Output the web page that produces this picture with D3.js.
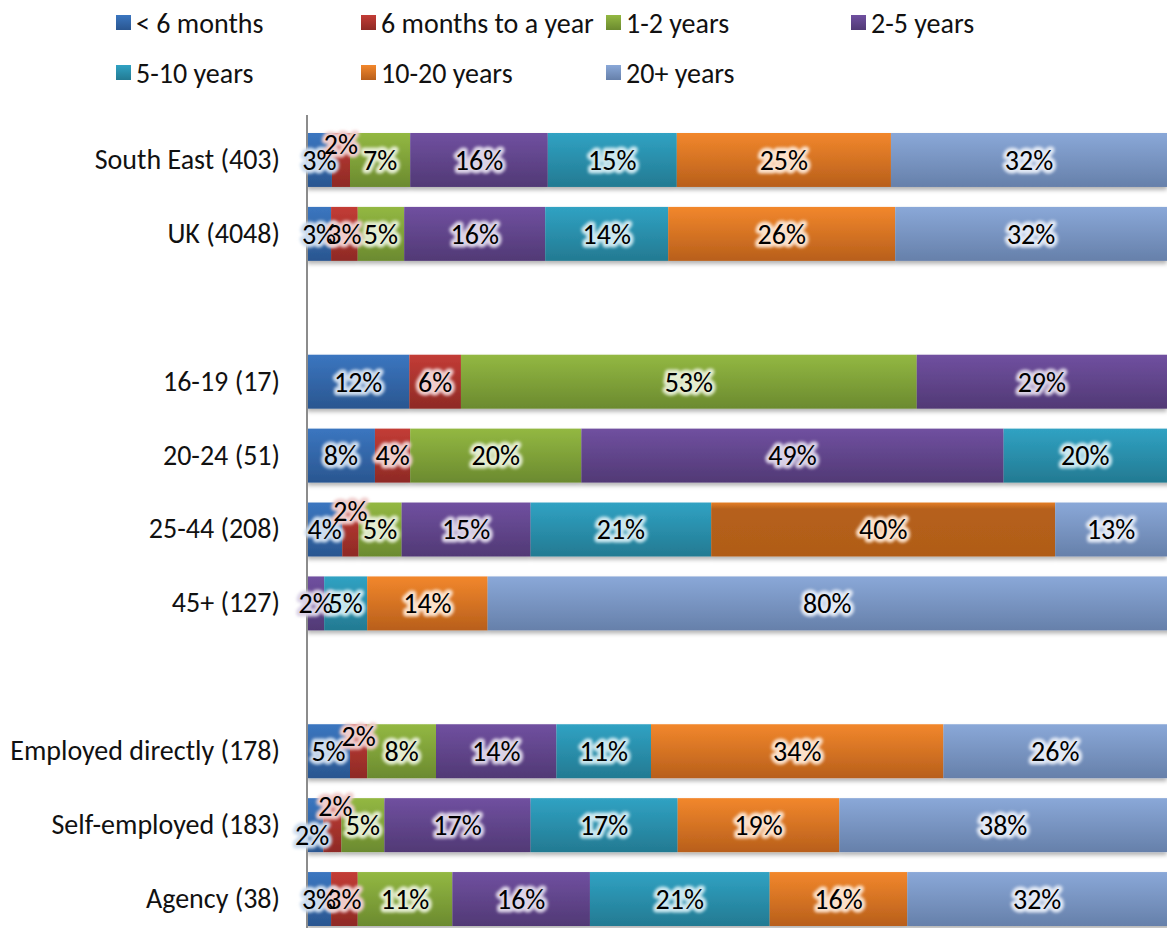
<!DOCTYPE html>
<html>
<head>
<meta charset="utf-8">
<script src="https://cdn.jsdelivr.net/npm/d3@7"></script>
<style>
  body { margin: 0; background: #fff; }
  text { font-family: Calibri, Carlito, "Open Sans", sans-serif; }
</style>
</head>
<body>
<div id="chart"></div>
<script>
// series (legend order)
const seriesNames = ['< 6 months', '6 months to a year', '1-2 years', '2-5 years', '5-10 years', '10-20 years', '20+ years'];

// row labels, blank rows are spacers
const rowLabels = ['South East (403)', 'UK (4048)', '', '16-19 (17)', '20-24 (51)', '25-44 (208)', '45+ (127)', ' ', 'Employed directly (178)', 'Self-employed (183)', 'Agency (38)'];

// percentages per row, in series order
const southEast  = [2.9, 2.1, 7.0, 16.0, 15.0, 24.9, 32.1];
const uk         = [2.8, 3.1, 5.4, 16.4, 14.3, 26.4, 31.6];
const age1619    = [11.9, 6.0, 53.0, 29.1, 0, 0, 0];
const age2024    = [7.9, 4.1, 19.9, 49.1, 19.5, 0, 0];
const age2544    = [4.1, 1.9, 5.0, 15.0, 21.0, 40.0, 13.0];
const age45      = [0, 0, 0, 2.0, 5.0, 14.0, 79.5];
const employed   = [5.0, 2.0, 8.0, 14.0, 11.0, 34.0, 26.0];
const selfEmp    = [1.9, 2.1, 5.0, 17.0, 17.1, 18.8, 38.1];
const agency     = [2.8, 3.1, 11.0, 16.0, 20.9, 16.0, 31.5];

const rowValues = [southEast, uk, null, age1619, age2024, age2544, age45, null, employed, selfEmp, agency];

// gradient stops top / bottom per series
const colTop = ['#3b76c0', '#c33c36', '#93b842', '#7050a0', '#30a2c3', '#f2872c', '#8aa8d8'];
const colBot = ['#2a5690', '#8e2a25', '#6b8a2f', '#513975', '#237a92', '#b85f1b', '#6680aa'];

const width = 1167, height = 928;
const margin = {top: 133, right: 0, bottom: 2, left: 307};
const plotW = width - margin.left - margin.right;
const fontSize = 28;

const svg = d3.select('#chart').append('svg')
  .attr('width', width)
  .attr('height', height);

const defs = svg.append('defs');
seriesNames.forEach((s, i) => {
  const lg = defs.append('linearGradient').attr('id', 'grad' + i)
    .attr('x1', 0).attr('y1', 0).attr('x2', 0).attr('y2', 1);
  lg.append('stop').attr('offset', '0%').attr('stop-color', colTop[i]);
  lg.append('stop').attr('offset', '100%').attr('stop-color', colBot[i]);
});
// highlighted point (25-44, 10-20 years)
const hl = defs.append('linearGradient').attr('id', 'gradHL')
  .attr('x1', 0).attr('y1', 0).attr('x2', 0).attr('y2', 1);
hl.append('stop').attr('offset', '0%').attr('stop-color', '#e47d26');
hl.append('stop').attr('offset', '12%').attr('stop-color', '#b6611b');
hl.append('stop').attr('offset', '100%').attr('stop-color', '#b05c18');

const shadow = defs.append('filter').attr('id', 'shadow')
  .attr('x', '-5%').attr('y', '-20%').attr('width', '110%').attr('height', '150%');
shadow.append('feDropShadow').attr('dx', 0).attr('dy', 3).attr('stdDeviation', 2)
  .attr('flood-color', '#000').attr('flood-opacity', 0.3);

const glow = defs.append('filter').attr('id', 'glow')
  .attr('x', '-30%').attr('y', '-50%').attr('width', '160%').attr('height', '200%');
glow.append('feGaussianBlur').attr('stdDeviation', 1.8);

defs.append('clipPath').attr('id', 'plotClip')
  .append('rect').attr('x', 0).attr('y', -20).attr('width', plotW).attr('height', height);

const x = d3.scaleLinear().domain([0, 100]).range([0, plotW]);
const y = d3.scaleBand().domain(rowLabels)
  .range([0, 793])
  .paddingInner(0.27).paddingOuter(0);

const g = svg.append('g').attr('transform', `translate(${margin.left},${margin.top})`);

// build stacked segments
const segs = [];
rowLabels.forEach((r, ri) => {
  const vals = rowValues[ri];
  if (!vals) return;
  let acc = 0;
  vals.forEach((v, si) => {
    if (v > 0) segs.push({row: r, ri: ri, si: si, v: v, x0: acc, x1: acc + v});
    acc += v;
  });
});

const bars = g.append('g').attr('clip-path', 'url(#plotClip)');
bars.selectAll('g.row')
  .data(rowLabels.filter((r, i) => rowValues[i]))
  .join('g')
    .attr('class', 'row')
    .attr('filter', 'url(#shadow)')
    .each(function(r) {
      d3.select(this).selectAll('rect')
        .data(segs.filter(d => d.row === r))
        .join('rect')
          .attr('x', d => x(d.x0))
          .attr('y', y(r))
          .attr('width', d => x(d.x1) - x(d.x0))
          .attr('height', y.bandwidth())
          .attr('fill', d => (d.ri === 5 && d.si === 5) ? 'url(#gradHL)' : `url(#grad${d.si})`);
    });

// axis
const yAxis = d3.axisLeft(y).tickSize(0).tickPadding(27);
g.append('g')
  .call(yAxis)
  .call(a => a.select('.domain').attr('d', `M0,-18V${height - margin.top}`)
    .attr('stroke', '#8c8c8c').attr('stroke-width', 2))
  .call(a => a.selectAll('text').attr('font-size', fontSize).attr('fill', '#111')
    .style('font-family', 'Calibri, Carlito, "Open Sans", sans-serif'));

// nudges for crowded small labels (row index, series index) -> [dx, dy]
const nudge = {'0-1': [0, -16], '5-1': [0, -18], '8-1': [0, -15], '9-1': [3, -19], '9-0': [-3, 10]};

function labelPos(d) {
  const n = nudge[d.ri + '-' + d.si] || [0, 0];
  const cx = (x(d.x0) + Math.min(x(d.x1), plotW)) / 2 + n[0];
  const cy = y(d.row) + y.bandwidth() / 2 + n[1];
  return `translate(${cx},${cy})`;
}

// glow layer first, then all the black texts above it
g.append('g').selectAll('text')
  .data(segs)
  .join('text')
    .attr('transform', labelPos)
    .attr('text-anchor', 'middle')
    .attr('dy', '0.35em')
    .attr('font-size', fontSize)
    .attr('fill', 'none')
    .attr('stroke', d => d3.interpolateRgb(colTop[d.si], '#fff')(0.75))
    .attr('stroke-width', 7)
    .attr('stroke-linejoin', 'round')
    .attr('filter', 'url(#glow)')
    .text(d => Math.round(d.v) + '%');

g.append('g').selectAll('text')
  .data(segs)
  .join('text')
    .attr('transform', labelPos)
    .attr('text-anchor', 'middle')
    .attr('dy', '0.35em')
    .attr('font-size', fontSize)
    .attr('fill', '#000')
    .text(d => Math.round(d.v) + '%');

// legend
const legX = d3.scaleLinear().domain([0, 1]).range([116, 361]);
const legend = svg.append('g');
const item = legend.selectAll('g')
  .data(seriesNames)
  .join('g')
    .attr('transform', (d, i) => `translate(${legX(i % 4)},${i < 4 ? 23 : 73})`);
item.append('rect')
  .attr('x', 0).attr('y', -8).attr('width', 15).attr('height', 15)
  .attr('fill', (d, i) => `url(#grad${i})`);
item.append('text')
  .attr('x', 20)
  .attr('dy', '0.35em')
  .attr('font-size', fontSize)
  .attr('fill', '#111')
  .text(d => d);
</script>
</body>
</html>
